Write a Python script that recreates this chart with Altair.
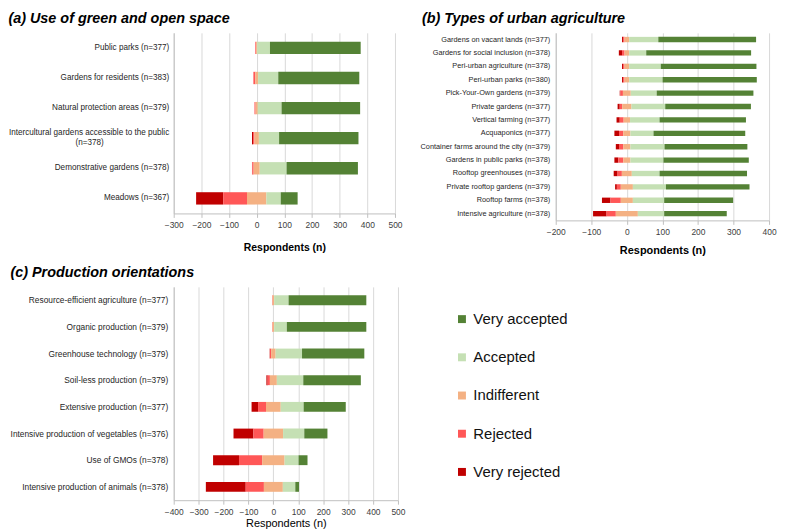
import altair as alt
import pandas as pd

FONT = "Liberation Sans"

levels = ["Very rejected", "Rejected", "Indifferent", "Accepted", "Very accepted"]
legend_order = ["Very accepted", "Accepted", "Indifferent", "Rejected", "Very rejected"]
legend_colors = ["#548235", "#c5e0b4", "#f4b183", "#ff5757", "#c00000"]

# ---------------- (a) Use of green and open space ----------------
a_items = [
    "Public parks (n=377)",
    "Gardens for residents (n=383)",
    "Natural protection areas (n=379)",
    "Intercultural gardens accessible to the public|(n=378)" + "\u00a0" * 29 + "\u200b",
    "Demonstrative gardens (n=378)",
    "Meadows (n=367)",
]
a_very_rejected = [0, 0, 0, 4, 1, 98]
a_rejected = [3, 7, 4, 5, 5, 86]
a_indifferent = [4, 10, 8, 16, 22, 70]
a_accepted = [46, 73, 86, 73, 97, 52]
a_very_accepted = [328, 293, 284, 287, 258, 61]

# ---------------- (b) Types of urban agriculture ----------------
b_items = [
    "Gardens on vacant lands (n=377)",
    "Gardens for social inclusion (n=378)",
    "Peri-urban agriculture (n=378)",
    "Peri-urban parks (n=380)",
    "Pick-Your-Own gardens (n=379)",
    "Private gardens (n=377)",
    "Vertical farming (n=377)",
    "Acquaponics (n=377)",
    "Container farms around the city (n=379)",
    "Gardens in public parks (n=378)",
    "Rooftop greenhouses (n=378)",
    "Private rooftop gardens (n=379)",
    "Rooftop farms (n=378)",
    "Intensive agriculture (n=378)",
]
b_very_rejected = [3, 9, 3, 3, 2, 6, 9, 13, 9, 11, 11, 5, 24, 38]
b_rejected = [4, 7, 4, 4, 7, 7, 11, 12, 12, 14, 12, 11, 29, 26]
b_indifferent = [13, 13, 13, 13, 22, 26, 18, 20, 20, 20, 28, 34, 34, 62]
b_accepted = [82, 48, 89, 94, 73, 95, 83, 65, 96, 93, 78, 93, 88, 74]
b_very_accepted = [275, 295, 269, 265, 272, 241, 243, 258, 233, 240, 246, 235, 194, 176]

# ---------------- (c) Production orientations ----------------
c_items = [
    "Resource-efficient agriculture (n=377)",
    "Organic production (n=379)",
    "Greenhouse technology (n=379)",
    "Soil-less production (n=379)",
    "Extensive production (n=377)",
    "Intensive production of vegetables (n=376)",
    "Use of GMOs (n=378)",
    "Intensive production of animals (n=378)",
]
c_very_rejected = [0, 0, 1, 5, 26, 80, 104, 160]
c_rejected = [2, 2, 5, 9, 32, 41, 93, 73]
c_indifferent = [6, 6, 18, 28, 59, 78, 90, 76]
c_accepted = [58, 51, 106, 106, 92, 85, 56, 50]
c_very_accepted = [312, 319, 250, 231, 169, 93, 36, 15]


def build(items, vr, r, ind, acc, va):
    rows = []
    for i, item in enumerate(items):
        vals = [vr[i], r[i], ind[i], acc[i], va[i]]
        start = -(vr[i] + r[i] + ind[i] / 2.0)
        for lev, v in zip(levels, vals):
            if v > 0:
                rows.append({"item": item, "response": lev, "start": start, "end": start + v})
            start += v
    return pd.DataFrame(rows)


def panel(df, items, title, title_dx, title_off, xdom, w, h, pad, label_size, label_pad,
          xt_weight, xt_size, xt_pad, legend):
    color = alt.Color(
        "response:N",
        scale=alt.Scale(domain=legend_order, range=legend_colors),
        legend=legend,
    )
    return (
        alt.Chart(
            df,
            title=alt.Title(
                title, anchor="start", font=FONT, fontSize=14.5, fontStyle="italic",
                fontWeight="bold", color="#000000", offset=title_off, dx=title_dx,
            ),
        )
        .mark_bar()
        .encode(
            x=alt.X(
                "start:Q",
                scale=alt.Scale(domain=xdom, nice=False, zero=False),
                axis=alt.Axis(
                    values=list(range(xdom[0], xdom[1] + 1, 100)),
                    title="Respondents (n)",
                    titleFont=FONT, titleFontSize=xt_size, titleFontWeight=xt_weight,
                    titleColor="#000000", titlePadding=xt_pad,
                    labelFont=FONT, labelFontSize=8.5, labelColor="#404040",
                    labelOverlap=False, labelFlush=False,
                    grid=True, gridColor="#d9d9d9", domainColor="#bfbfbf",
                    tickColor="#bfbfbf", tickSize=4, labelPadding=3,
                ),
            ),
            x2="end:Q",
            y=alt.Y(
                "item:N", sort=items,
                scale=alt.Scale(paddingInner=pad, paddingOuter=pad / 2),
                axis=alt.Axis(
                    title=None, ticks=False, labelFont=FONT, labelFontSize=label_size,
                    labelColor="#262626", labelPadding=label_pad, labelLimit=0,
                    domainColor="#bfbfbf", labelExpr="split(datum.label, '|')",
                    labelOffset=alt.condition(
                        "indexof(datum.value, '|') >= 0", alt.value(-5), alt.value(0)
                    ),
                ),
            ),
            color=color,
        )
        .properties(width=w, height=h)
    )


df_a = build(a_items, a_very_rejected, a_rejected, a_indifferent, a_accepted, a_very_accepted)
df_b = build(b_items, b_very_rejected, b_rejected, b_indifferent, b_accepted, b_very_accepted)
df_c = build(c_items, c_very_rejected, c_rejected, c_indifferent, c_accepted, c_very_accepted)

legend = alt.Legend(
    orient="none", legendX=283, legendY=25, title=None, symbolType="square",
    symbolSize=64, symbolStrokeWidth=0, labelFont=FONT, labelFontSize=15,
    labelColor="#111111", rowPadding=22.5, labelOffset=4, padding=0,
)

chart_a = panel(df_a, a_items, "(a) Use of green and open space", 0, 6, [-300, 500],
                223, 182, 0.59, 8.2, 5, "bold", 10.5, 14, None)
chart_b = panel(df_b, b_items, "(b) Types of urban agriculture", 2, 6, [-200, 400],
                215, 189, 0.6, 7.4, 6, "bold", 11, 9, None)
chart_c = panel(df_c, c_items, "(c) Production orientations", 0, 6, [-400, 500],
                226, 215, 0.63, 8.4, 6, "normal", 11, 2, legend)

top_row = alt.hconcat(chart_a, chart_b, spacing=17).resolve_scale(color="independent")
chart = (
    alt.vconcat(top_row, chart_c, spacing=9)
    .resolve_scale(color="independent")
    .properties(padding={"left": 0, "top": 1, "right": 0, "bottom": 0})
    .configure(font=FONT)
    .configure_view(stroke=None)
)

chart.save("out.html", embed_options={"renderer": "svg", "actions": False})
